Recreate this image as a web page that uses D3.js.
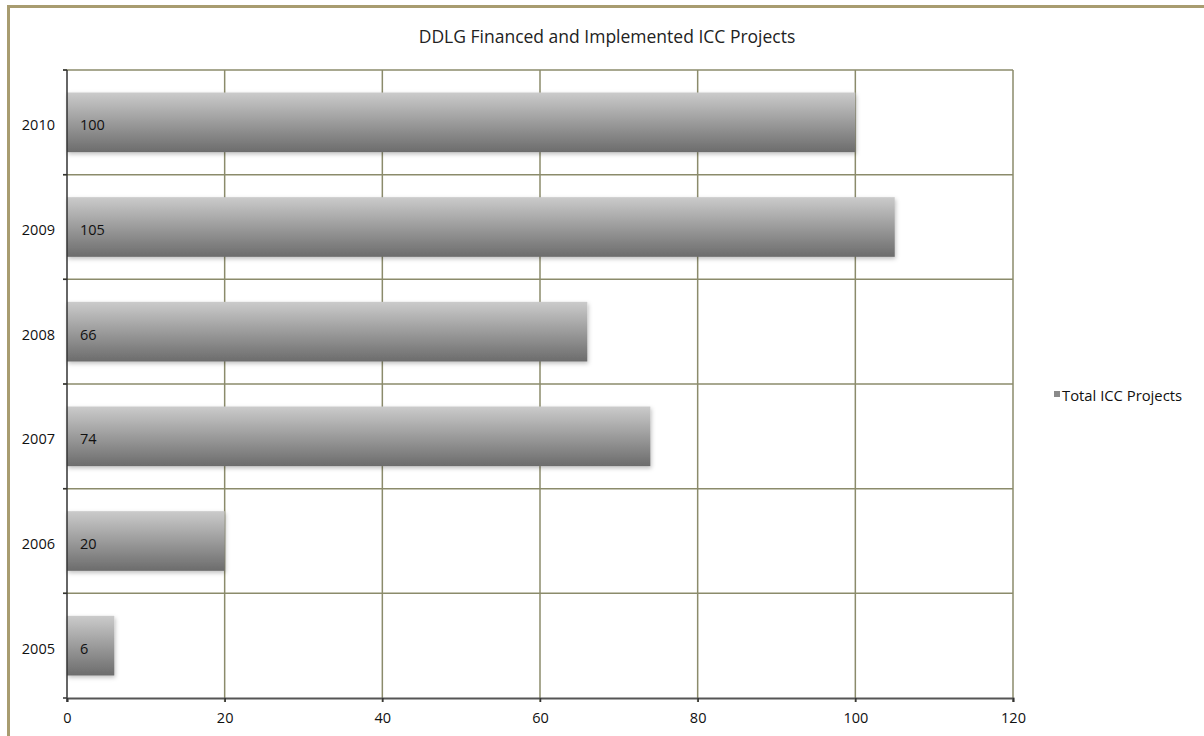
<!DOCTYPE html>
<html><head><meta charset="utf-8">
<script src="https://cdn.jsdelivr.net/npm/d3@7"></script>
<style>body{margin:0;background:#fff;}svg{display:block;font-family:"Open Sans",sans-serif;}</style>
</head><body>
<svg id="c" width="1204" height="736"></svg>
<script>
const years = ["2010","2009","2008","2007","2006","2005"];
const totals = [100,105,66,74,20,6];
const xTicks = [0,20,40,60,80,100,120];
const seriesName = "Total ICC Projects";
const title = "DDLG Financed and Implemented ICC Projects";

(function(){
const svg = d3.select("#c");
// frame
svg.append("rect").attr("x",8.5).attr("y",6.5).attr("width",1204).attr("height",740)
  .attr("fill","#fff").attr("stroke","#a89c70").attr("stroke-width",3);

const defs = svg.append("defs");
const g = defs.append("linearGradient").attr("id","bg").attr("x1",0).attr("y1",0).attr("x2",0).attr("y2",1);
g.append("stop").attr("offset","0%").attr("stop-color","#cbcbcb");
g.append("stop").attr("offset","100%").attr("stop-color","#6c6c6c");
const f = defs.append("filter").attr("id","sh").attr("x","-10%").attr("y","-20%").attr("width","130%").attr("height","160%");
f.append("feDropShadow").attr("dx",1).attr("dy",2).attr("stdDeviation",2).attr("flood-color","#000").attr("flood-opacity",0.25);

const pL=67, pR=1013, pT=70, pB=698;
const x = d3.scaleLinear().domain([0,120]).range([pL,pR]);
const y = d3.scaleBand().domain(years).range([pT,pB]).paddingInner(0.43).paddingOuter(0.215);
const yb = d3.scaleBand().domain(years).range([pT,pB]);

svg.append("text").attr("x",607).attr("y",43).attr("text-anchor","middle")
  .attr("font-size",17.5).attr("fill","#222").text(title);

// vertical gridlines
svg.append("g").selectAll("line").data(xTicks.slice(1)).join("line")
  .attr("x1",d=>x(d)).attr("x2",d=>x(d)).attr("y1",pT).attr("y2",pB+4)
  .attr("stroke","#8b8b6b").attr("stroke-width",1.5);
// horizontal gridlines at band boundaries
const bounds = years.map(d=>yb(d)).concat([pB]);
svg.append("g").selectAll("line").data(bounds.slice(0,-1)).join("line")
  .attr("x1",pL-4).attr("x2",pR).attr("y1",d=>d).attr("y2",d=>d)
  .attr("stroke","#8b8b6b").attr("stroke-width",1.5);

// bars
svg.append("g").selectAll("rect").data(years).join("rect")
  .attr("x",x(0)).attr("y",d=>y(d)).attr("width",(d,i)=>x(totals[i])-x(0)).attr("height",y.bandwidth())
  .attr("fill","url(#bg)").attr("filter","url(#sh)");

// value labels
svg.append("g").selectAll("text").data(years).join("text")
  .attr("x",x(0)+13).attr("y",d=>y(d)+y.bandwidth()/2+8)
  .attr("font-size",14.5).attr("fill","#111").text((d,i)=>totals[i]);

// left axis
const ya = svg.append("g").attr("transform",`translate(${pL},0)`);
ya.append("line").attr("x1",0).attr("x2",0).attr("y1",pT).attr("y2",pB+4).attr("stroke","#333").attr("stroke-width",1.5);
ya.selectAll("line.t").data(bounds).join("line").attr("class","t")
  .attr("x1",-4).attr("x2",0).attr("y1",d=>d).attr("y2",d=>d).attr("stroke","#333").attr("stroke-width",1.5);
ya.selectAll("text").data(years).join("text")
  .attr("x",-12).attr("y",d=>yb(d)+yb.bandwidth()/2+8).attr("text-anchor","end")
  .attr("font-size",14.5).attr("fill","#111").text(d=>d);

// bottom axis
const xa = svg.append("g").attr("transform",`translate(0,${pB})`)
  .call(d3.axisBottom(x).tickValues(xTicks).tickSize(4).tickPadding(11));
xa.select(".domain").attr("stroke","#555").attr("stroke-width",2);
xa.selectAll(".tick line").attr("stroke","#333").attr("stroke-width",1.5);
xa.selectAll(".tick text").attr("font-size",14.5).attr("fill","#111").attr("font-family","Open Sans, sans-serif");

// legend
svg.append("rect").attr("x",1054).attr("y",391).attr("width",6).attr("height",6).attr("fill","#8a8a8a");
svg.append("text").attr("x",1062).attr("y",401).attr("font-size",14.8).attr("fill","#111").text(seriesName);
})();
</script>
</body></html>
